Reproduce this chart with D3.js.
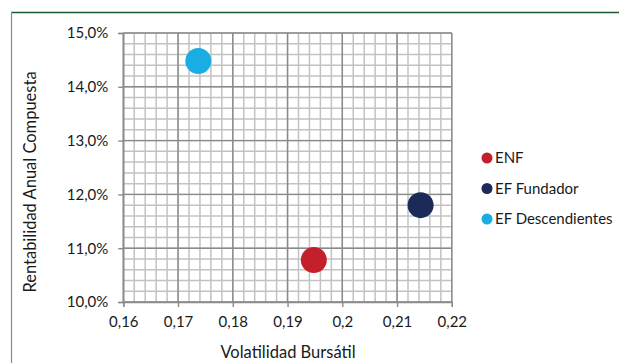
<!DOCTYPE html>
<html>
<head>
<meta charset="utf-8">
<script src="https://cdn.jsdelivr.net/npm/d3@7"></script>
<style>
  html, body { margin: 0; padding: 0; background: #fff; }
  svg { display: block; font-family: Lato, "Open Sans", sans-serif; }
</style>
</head>
<body>
<svg id="chart" width="619" height="363"></svg>
<script>
// Series: volatility (x) and compound annual return (y, fraction)
const seriesNames = ["ENF", "EF Fundador", "EF Descendientes"];
const volatility = [0.1948, 0.2143, 0.1737];
const annualReturn = [0.1078, 0.1180, 0.1448];
const seriesColors = ["#c4202b", "#1c2a5a", "#1aade4"];

const xTicks = [0.16, 0.17, 0.18, 0.19, 0.2, 0.21, 0.22];
const xTickLabels = ["0,16", "0,17", "0,18", "0,19", "0,2", "0,21", "0,22"];
const yTicks = [0.10, 0.11, 0.12, 0.13, 0.14, 0.15];
const yTickLabels = ["10,0%", "11,0%", "12,0%", "13,0%", "14,0%", "15,0%"];

const xTitle = "Volatilidad Bursátil";
const yTitle = "Rentabilidad Anual Compuesta";

const svg = d3.select("#chart");
const plot = { left: 123.3, right: 451.8, top: 33, bottom: 302 };

const x = d3.scaleLinear().domain([0.16, 0.22]).range([plot.left, plot.right]);
const y = d3.scaleLinear().domain([0.10, 0.15]).range([plot.bottom, plot.top]);

// Chart frame: dark green top rule and lighter left rule
svg.append("line").attr("x1", 11).attr("x2", 619).attr("y1", 12.5).attr("y2", 12.5)
  .attr("stroke", "#1d5a36").attr("stroke-width", 1.6);
svg.append("line").attr("x1", 11.5).attr("x2", 11.5).attr("y1", 12).attr("y2", 363)
  .attr("stroke", "#6f9a80").attr("stroke-width", 1.2);

// Minor gridlines (5 divisions per major step)
const xMinor = d3.range(0, 31).map(i => 0.16 + i * 0.002);
const yMinor = d3.range(0, 26).map(i => 0.10 + i * 0.002);
const grid = svg.append("g");
grid.selectAll(".xm").data(xMinor).join("line")
  .attr("x1", d => x(d)).attr("x2", d => x(d))
  .attr("y1", plot.top).attr("y2", plot.bottom)
  .attr("stroke", "#c2c2c2").attr("stroke-width", 1.5);
grid.selectAll(".ym").data(yMinor).join("line")
  .attr("y1", d => y(d)).attr("y2", d => y(d))
  .attr("x1", plot.left).attr("x2", plot.right)
  .attr("stroke", "#c2c2c2").attr("stroke-width", 1.5);

// Major gridlines
grid.selectAll(".xM").data(xTicks).join("line")
  .attr("x1", d => x(d)).attr("x2", d => x(d))
  .attr("y1", plot.top).attr("y2", plot.bottom)
  .attr("stroke", "#8a8a8a").attr("stroke-width", 1.4);
grid.selectAll(".yM").data(yTicks).join("line")
  .attr("y1", d => y(d)).attr("y2", d => y(d))
  .attr("x1", plot.left).attr("x2", plot.right)
  .attr("stroke", "#8a8a8a").attr("stroke-width", 1.4);

// Axes
const xAxis = d3.axisBottom(x).tickValues(xTicks)
  .tickFormat((d, i) => xTickLabels[i]).tickSizeOuter(0).tickSize(5).tickPadding(9);
const yAxis = d3.axisLeft(y).tickValues(yTicks)
  .tickFormat((d, i) => yTickLabels[i]).tickSizeOuter(0).tickSize(5).tickPadding(10);

const gx = svg.append("g").attr("transform", `translate(0,${plot.bottom})`).call(xAxis);
const gy = svg.append("g").attr("transform", `translate(${plot.left},0)`).call(yAxis);
[gx, gy].forEach(g => {
  g.select(".domain").attr("stroke", "#8a8a8a").attr("stroke-width", 1.4);
  g.selectAll(".tick line").attr("stroke", "#8a8a8a").attr("stroke-width", 1.4);
  g.selectAll(".tick text").attr("fill", "#1a1a1a").style("font-size", "15px")
    .style("font-family", "Lato, 'Open Sans', sans-serif");
});

// Axis titles
svg.append("text").attr("x", 288).attr("y", 358)
  .attr("text-anchor", "middle").attr("fill", "#1a1a1a").style("font-size", "16.5px")
  .text(xTitle);
svg.append("text").attr("transform", "translate(36,182) rotate(-90)")
  .attr("text-anchor", "middle").attr("fill", "#1a1a1a").style("font-size", "16.5px")
  .text(yTitle);

// Points
svg.append("g").selectAll("circle").data(seriesNames).join("circle")
  .attr("cx", (d, i) => x(volatility[i]))
  .attr("cy", (d, i) => y(annualReturn[i]))
  .attr("r", 13)
  .attr("fill", (d, i) => seriesColors[i]);

// Legend
const legend = svg.append("g").attr("transform", "translate(487,158)");
const item = legend.selectAll("g").data(seriesNames).join("g")
  .attr("transform", (d, i) => `translate(0,${i * 30.5})`);
item.append("circle").attr("r", 5.5).attr("fill", (d, i) => seriesColors[i]);
item.append("text").attr("x", 8).attr("dy", "0.36em")
  .attr("fill", "#1a1a1a").style("font-size", "15px").text(d => d);
</script>
</body>
</html>
